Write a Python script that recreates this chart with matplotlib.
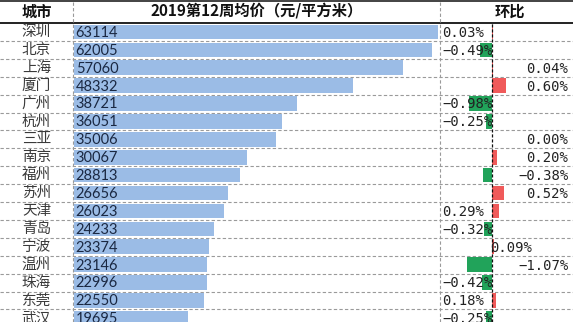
import matplotlib
matplotlib.use("Agg")
import matplotlib.pyplot as plt

plt.rcParams['font.family'] = ['Noto Sans CJK SC', 'DejaVu Sans']

# ===== data =====
cities = ["深圳", "北京", "上海", "厦门", "广州", "杭州", "三亚", "南京", "福州",
          "苏州", "天津", "青岛", "宁波", "温州", "珠海", "东莞", "武汉"]
prices = [63114, 62005, 57060, 48332, 38721, 36051, 35006, 30067, 28813,
          26656, 26023, 24233, 23374, 23146, 22996, 22550, 19695]
changes = [0.03, -0.49, 0.04, 0.60, -0.98, -0.25, 0.00, 0.20, -0.38,
           0.52, 0.29, -0.32, 0.09, -1.07, -0.42, 0.18, -0.25]
headers = ["城市", "2019第12周均价（元/平方米）", "环比"]

# where the % label sits in each row (as in the source sheet)
label_pos = ["l", "l", "r", "r", "l", "l", "r", "r", "r",
             "r", "l", "l", "z", "r", "l", "l", "l"]

# ===== layout (pixels) =====
W, H = 573, 322
HEAD = 23
ROW = 17.9
X_COL1 = 73
X_COL2 = 440
X_ZERO = 492
PX_PER_PCT = 23.5

fig = plt.figure(figsize=(W / 100, H / 100), dpi=100)
fig.patch.set_facecolor("white")

bg = fig.add_axes([0, 0, 1, 1])
bg.set_xlim(0, W)
bg.set_ylim(H, 0)
bg.axis("off")

# borders / grid
bg.axhline(0.8, color="#222222", lw=1.2)
bg.axhline(HEAD - 0.5, color="#111111", lw=1.3)
for k in range(1, len(cities)):
    bg.axhline(HEAD + k * ROW, color="#9a9a9a", lw=0.8, ls=(0, (3, 2)))
for x in (X_COL1, X_COL2):
    bg.axvline(x, color="#9a9a9a", lw=0.8, ls=(0, (3, 2)))

# header text
bg.text(X_COL1 / 2, HEAD / 2, headers[0], ha="center", va="center",
        fontsize=11, fontweight="bold", color="#111111")
bg.text((X_COL1 + X_COL2) / 2, HEAD / 2, headers[1], ha="center", va="center",
        fontsize=11, fontweight="bold", color="#111111")
bg.text((X_COL2 + W) / 2 + 3, HEAD / 2, headers[2], ha="center", va="center",
        fontsize=11, fontweight="bold", color="#111111")

n_vis = (H - HEAD) / ROW

# ===== price bars =====
ax_p = fig.add_axes([(X_COL1 + 1) / W, 0, (X_COL2 - X_COL1 - 1) / W, (H - HEAD) / H])
ax_p.set_xlim(0, 63114 * (X_COL2 - X_COL1 - 1) / 364)
ax_p.set_ylim(-0.5 + n_vis, -0.5)
ax_p.axis("off")
ax_p.patch.set_alpha(0)
rows = list(range(len(cities)))
ax_p.barh(rows, prices, height=0.82, color="#9BBCE6", edgecolor="none")
for i, v in enumerate(prices):
    ax_p.text(300, i + 0.05, f"{v}", ha="left", va="center", fontsize=10.5,
              family="Lato", color="#1A2842")

# ===== change bars =====
left = X_COL2 + 1
ax_c = fig.add_axes([left / W, 0, (W - left) / W, (H - HEAD) / H])
ax_c.set_xlim(-(X_ZERO - left) / PX_PER_PCT, (W - X_ZERO) / PX_PER_PCT)
ax_c.set_ylim(-0.5 + n_vis, -0.5)
ax_c.axis("off")
ax_c.patch.set_alpha(0)
colors = ["#21A35A" if c < 0 else "#F05A5A" for c in changes]
ax_c.barh(rows, changes, height=0.82, color=colors, edgecolor="none")
ax_c.axvline(0, color="#111111", lw=0.9, ls=(0, (2.5, 1.5)))

xl, xr = ax_c.get_xlim()
for i, c in enumerate(changes):
    s = f"{c:.2f}%".replace("-", "−")
    if label_pos[i] == "l":
        x, ha = xl + 0.06, "left"
    elif label_pos[i] == "r":
        x, ha = xr - 0.2, "right"
    else:
        x, ha = -0.08, "left"
    ax_c.text(x, i + 0.05, s, ha=ha, va="center", fontsize=10,
              family=["DejaVu Sans Mono", "DejaVu Sans"], color="#222222")

for i, name in enumerate(cities):
    bg.text(X_COL1 / 2, HEAD + (i + 0.5) * ROW, name, ha="center", va="center",
            fontsize=10.5, color="#3a3a3a")

fig.savefig("out.png", dpi=100)
